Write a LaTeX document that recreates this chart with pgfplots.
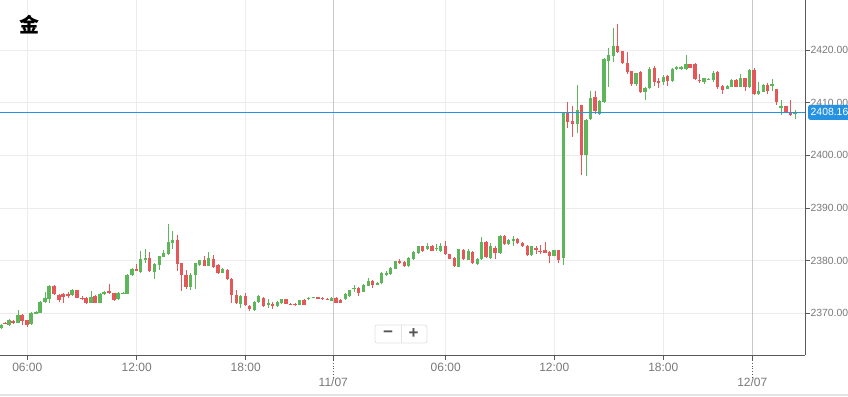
\documentclass[border=0pt]{standalone}
\usepackage{pgfplots}
\pgfplotsset{compat=1.18}
\usepackage{pgfplotstable}
\usepackage{fontspec}
\setmainfont{Liberation Sans}
\newfontfamily\cjk{Noto Sans CJK SC}
\definecolor{cup}{RGB}{94,182,90}
\definecolor{cdn}{RGB}{229,88,90}
\definecolor{gridc}{RGB}{236,236,236}
\definecolor{dayc}{RGB}{200,200,200}
\definecolor{axc}{RGB}{90,90,90}
\definecolor{labc}{RGB}{120,120,120}
\definecolor{pblue}{RGB}{38,146,226}
\definecolor{btnb}{RGB}{225,225,225}
\definecolor{btnt}{RGB}{85,85,85}

\pgfplotstableread{
x o h l c
1 2367.2 2368.0 2367.0 2367.8
5 2368.2 2368.3 2367.9 2368.0
9 2367.8 2368.9 2367.6 2368.7
13 2368.6 2368.7 2367.9 2368.1
18 2368.2 2370.6 2368.1 2369.7
22 2369.7 2369.8 2367.8 2368.6
27 2368.7 2368.8 2367.5 2367.8
31 2367.9 2370.3 2367.8 2370.1
36 2370.0 2370.5 2369.9 2370.3
40 2370.1 2372.3 2370.0 2372.2
45 2372.2 2374.1 2371.9 2372.9
49 2372.7 2375.3 2371.9 2375.2
54 2375.2 2375.3 2373.5 2373.6
59 2373.5 2373.6 2372.1 2372.5
63 2373.7 2373.8 2371.9 2373.2
68 2373.6 2374.1 2373.0 2373.4
72 2373.4 2374.6 2373.3 2374.4
77 2374.4 2374.5 2372.9 2373.0
82 2372.95 2373.2 2372.5 2372.85
86 2373.0 2373.1 2371.8 2371.9
91 2372.0 2374.3 2371.9 2373.2
95 2373.3 2373.4 2371.9 2372.0
100 2372.0 2373.8 2371.9 2373.7
104 2373.6 2374.2 2373.5 2374.1
109 2374.2 2375.5 2373.7 2373.8
114 2373.8 2373.9 2372.4 2372.5
118 2372.7 2374.0 2372.6 2373.9
123 2373.75 2374.0 2373.6 2373.85
127 2373.7 2377.4 2373.6 2377.3
132 2377.2 2378.6 2377.1 2378.5
136.7 2378.5 2379.3 2378.0 2378.1
140.7 2377.9 2381.8 2377.6 2380.3
145.3 2380.1 2382.3 2379.5 2380.6
149.3 2380.6 2381.6 2377.9 2377.95
154.3 2377.9 2379.6 2376.5 2379.4
159.3 2379.2 2380.9 2378.2 2380.9
163.3 2380.8 2382.0 2380.7 2381.4
168.3 2381.2 2387.0 2381.1 2383.6
172.7 2383.3 2385.7 2382.3 2383.9
177.3 2383.9 2384.9 2378.0 2379.3
181.3 2379.5 2379.5 2374.3 2377.3
186 2377.3 2378.2 2374.7 2375.1
190.3 2375.1 2377.6 2374.4 2377.3
195.3 2377.2 2379.5 2374.6 2379.5
199.3 2379.2 2380.2 2379.0 2380.1
204.3 2380.1 2380.8 2378.9 2379.0
208.3 2379.0 2381.6 2378.9 2380.6
213.3 2380.4 2381.1 2378.7 2378.9
218 2379.2 2379.3 2377.5 2377.7
222.3 2377.7 2378.7 2377.6 2378.4
227.3 2378.2 2378.4 2376.3 2376.5
231.7 2376.6 2376.7 2372.0 2373.5
236.3 2373.5 2374.4 2371.8 2371.9
240.7 2371.8 2373.5 2371.0 2373.3
245.3 2373.3 2373.8 2371.3 2371.6
249.3 2371.4 2371.6 2370.5 2370.9
254.3 2370.6 2372.4 2370.5 2372.2
258.3 2372.2 2373.4 2372.0 2373.3
263.3 2373.0 2373.1 2371.2 2371.3
268.3 2371.8 2372.8 2371.1 2371.9
272.3 2371.8 2372.1 2370.9 2371.4
277.3 2371.3 2372.3 2371.2 2372.2
281.7 2371.9 2372.8 2371.8 2372.7
286 2372.7 2372.8 2371.7 2371.8
290.3 2371.8 2371.9 2371.6 2371.7
295 2371.8 2372.0 2371.4 2371.6
299.3 2371.6 2372.6 2371.5 2372.5
304 2372.6 2372.7 2371.5 2371.6
308.7 2372.7 2373.1 2372.6 2373.0
313.3 2373.0 2373.1 2372.9 2373.05
318 2373.05 2373.1 2372.9 2372.95
322.7 2373.0 2373.1 2372.6 2372.7
327.3 2372.7 2373.0 2372.5 2372.6
331.7 2372.4 2373.1 2372.3 2373.0
336 2373.0 2373.1 2371.9 2372.0
340.7 2372.6 2372.8 2371.9 2371.95
345.3 2372.7 2373.8 2372.6 2373.7
349.3 2373.2 2374.5 2373.1 2374.4
354 2374.7 2375.4 2374.1 2374.8
358.3 2374.9 2375.0 2373.2 2373.9
363.3 2374.1 2375.6 2374.0 2375.4
368.3 2375.2 2376.8 2375.1 2376.2
372.7 2376.2 2376.3 2374.9 2375.4
377.7 2375.6 2375.9 2375.4 2375.7
381.7 2375.7 2377.8 2375.5 2377.6
386.7 2377.3 2378.0 2377.0 2377.7
390.7 2377.4 2378.8 2377.3 2378.7
395.3 2378.5 2380.0 2378.4 2379.9
399.7 2379.9 2380.4 2379.3 2379.8
404.3 2379.8 2379.9 2378.8 2378.9
408.7 2378.9 2380.7 2378.8 2380.6
413.3 2380.3 2381.8 2380.2 2381.7
418.3 2381.4 2382.8 2381.3 2382.7
422.7 2382.7 2382.8 2381.7 2381.8
427.3 2382.2 2383.3 2382.0 2382.7
432 2382.7 2383.0 2381.8 2381.9
436.7 2382.3 2383.1 2381.8 2382.4
440.7 2381.9 2383.3 2381.7 2382.8
445.7 2382.8 2383.7 2381.1 2381.2
449.3 2381.2 2381.3 2380.3 2380.4
454.3 2380.6 2380.7 2378.8 2378.9
458.3 2378.9 2382.3 2378.8 2382.2
463.3 2382.0 2382.2 2380.1 2380.3
468.3 2380.1 2382.2 2380.1 2381.8
472.3 2381.7 2381.8 2379.4 2379.5
477.3 2379.3 2380.5 2379.2 2380.4
481.7 2380.4 2384.4 2380.1 2383.6
486 2383.6 2383.8 2380.6 2380.8
490.7 2380.6 2383.3 2380.4 2382.8
495 2382.5 2382.7 2380.4 2381.5
500 2381.4 2384.8 2381.3 2384.7
504.3 2384.7 2384.8 2383.0 2383.2
508.3 2383.1 2384.1 2383.0 2384.0
513.3 2383.8 2384.6 2382.8 2384.2
517.7 2384.2 2384.3 2383.1 2383.3
522.3 2383.4 2383.5 2382.5 2382.7
527.3 2382.8 2382.9 2380.9 2381.0
531.7 2381.0 2382.8 2380.9 2382.7
536 2382.4 2382.7 2381.3 2382.0
540 2381.9 2383.0 2381.3 2381.8
545 2382.1 2383.6 2381.4 2381.5
549.3 2381.7 2381.8 2379.5 2380.9
554 2380.9 2382.1 2380.8 2382.0
558.3 2382.0 2382.1 2379.5 2380.2
563.3 2380.6 2408.1 2379.2 2408.0
567.3 2408.0 2410.2 2405.1 2406.4
572.3 2406.6 2409.4 2403.5 2405.9
577.3 2405.9 2413.4 2404.2 2408.7
581.7 2409.5 2409.6 2396.3 2400.1
586 2400.1 2406.9 2396.1 2406.8
590.3 2407.0 2412.2 2406.7 2410.8
595 2411.0 2412.2 2407.8 2408.5
599.3 2407.9 2410.5 2407.7 2410.3
604 2410.1 2418.4 2410.0 2418.3
608.3 2418.0 2420.3 2413.0 2419.0
613.3 2418.9 2424.1 2417.8 2420.8
617.3 2420.8 2424.9 2419.4 2419.7
622.3 2419.8 2419.9 2417.3 2417.5
627.3 2417.5 2419.6 2415.4 2415.9
631.3 2416.0 2416.1 2413.2 2413.5
636 2413.5 2415.7 2413.2 2415.6
640.7 2415.8 2416.0 2411.9 2412.0
645 2412.0 2412.9 2410.5 2412.7
649.3 2412.7 2416.8 2412.6 2416.4
654.3 2416.5 2417.0 2413.2 2414.0
658.3 2414.0 2414.6 2412.7 2413.9
663.3 2414.0 2415.3 2413.4 2414.9
667.3 2415.0 2415.3 2413.2 2414.1
672.3 2414.1 2416.5 2414.0 2416.4
676.7 2416.6 2416.9 2416.2 2416.7
681 2416.4 2416.9 2416.2 2416.8
686 2416.4 2419.0 2416.2 2417.3
690 2417.3 2417.4 2416.5 2416.6
695 2417.3 2417.6 2414.3 2414.4
699.3 2414.3 2415.4 2413.8 2414.2
704 2414.0 2414.6 2413.5 2414.6
708.3 2414.45 2414.7 2414.3 2414.55
713.3 2414.4 2416.1 2414.0 2415.7
717.7 2415.9 2416.0 2412.5 2413.0
722.3 2413.2 2413.3 2411.6 2412.5
727.3 2412.6 2413.3 2412.5 2413.2
731.7 2413.0 2414.4 2412.9 2414.3
736 2414.3 2414.4 2412.9 2413.0
740.7 2413.0 2415.4 2412.9 2414.6
745 2414.6 2414.7 2412.3 2412.9
749.3 2412.9 2416.3 2412.8 2416.2
754 2416.2 2416.5 2411.5 2411.6
758.3 2411.6 2414.0 2411.5 2412.3
763.3 2412.1 2413.5 2412.0 2413.4
767.3 2413.4 2413.7 2411.6 2412.2
772 2413.4 2414.4 2412.3 2413.5
776.7 2412.5 2412.6 2409.6 2410.2
781 2409.2 2410.5 2407.7 2409.3
786 2409.3 2409.4 2408.0 2408.3
790.7 2408.1 2410.5 2407.5 2407.7
795 2407.8 2408.7 2406.9 2408.16
}\candles

\begin{document}
\begin{tikzpicture}
\useasboundingbox (0,0) rectangle (848pt,-396pt);
\begin{axis}[
  at={(0,0)}, anchor=north west,
  scale only axis, width=805pt, height=355pt,
  xmin=0, xmax=805, ymin=2362.09, ymax=2429.49,
  axis x line=bottom, axis y line=right,
  axis line style={-, color=axc, line width=0.9pt},
  clip=false,
  xtick={27.3,136.7,245.7,445.7,554.3,663.3},
  xticklabels={06:00,12:00,18:00,06:00,12:00,18:00},
  extra x ticks={333.3,752.3},
  extra x tick labels={11/07,12/07},
  extra x tick style={grid=major, major grid style={color=dayc, line width=0.9pt}, xticklabel style={yshift=-15pt}},
  ytick={2370,2380,2390,2400,2410,2420},
  yticklabels={2370.00,2380.00,2390.00,2400.00,2410.00,2420.00},
  grid=major,
  major grid style={color=gridc, line width=0.8pt},
  tick align=outside,
  major tick length=4.5pt,
  tick style={color=axc, line width=0.8pt},
  xticklabel style={font=\fontsize{12}{14}\selectfont, text=labc},
  yticklabel style={font=\fontsize{10.4}{12}\selectfont, text=labc, anchor=west, xshift=-2.5pt},
]
% wicks
\addplot[forget plot, draw=none, mark=none,
  restrict expr to domain={\thisrow{c}-\thisrow{o}}{0:100},
  error bars/.cd, y dir=plus, y explicit, error mark=none,
  error bar style={draw=cup, line width=1pt}]
  table[x=x, y=l, y error plus expr={\thisrow{h}-\thisrow{l}}] {\candles};
\addplot[forget plot, draw=none, mark=none,
  restrict expr to domain={\thisrow{c}-\thisrow{o}}{-100:-0.001},
  error bars/.cd, y dir=plus, y explicit, error mark=none,
  error bar style={draw=cdn, line width=1pt}]
  table[x=x, y=l, y error plus expr={\thisrow{h}-\thisrow{l}}] {\candles};
% bodies
\addplot[forget plot, draw=none, mark=none,
  restrict expr to domain={\thisrow{c}-\thisrow{o}}{0:100},
  error bars/.cd, y dir=both, y explicit, error mark=none,
  error bar style={draw=cup, line width=3.4pt}]
  table[x=x, y expr={(\thisrow{o}+\thisrow{c})/2}, y error expr={max(abs(\thisrow{c}-\thisrow{o})/2,0.08)}] {\candles};
\addplot[forget plot, draw=none, mark=none,
  restrict expr to domain={\thisrow{c}-\thisrow{o}}{-100:-0.001},
  error bars/.cd, y dir=both, y explicit, error mark=none,
  error bar style={draw=cdn, line width=3.4pt}]
  table[x=x, y expr={(\thisrow{o}+\thisrow{c})/2}, y error expr={max(abs(\thisrow{c}-\thisrow{o})/2,0.08)}] {\candles};
% current price line
\addplot[forget plot, pblue, line width=0.8pt] coordinates {(0,2408.16) (805,2408.16)};
\node[fill=pblue, text=white, rounded corners=2pt, anchor=west, inner xsep=2.5pt, inner ysep=0pt,
  minimum height=15pt, font=\fontsize{10.4}{12}\selectfont] at (axis cs:808,2408.16) {2408.16};
% title
\node[anchor=base west, inner sep=0pt, xshift=19pt, yshift=-32pt,
  font=\cjk\bfseries\fontsize{20}{22}\selectfont] at (rel axis cs:0,1) {金};
% zoom buttons
\draw[fill=white, draw=btnb, line width=0.8pt, rounded corners=2pt]
  (axis cs:375,2364.37) rectangle (axis cs:427,2367.79);
\draw[draw=btnb, line width=0.8pt] (axis cs:401,2364.37) -- (axis cs:401,2367.79);
\node[text=btnt, font=\bfseries\fontsize{17}{17}\selectfont, inner sep=0pt] at (axis cs:388,2366.08) {−};
\node[text=btnt, font=\bfseries\fontsize{17}{17}\selectfont, inner sep=0pt] at (axis cs:413.5,2366.08) {+};
\end{axis}
% dotted date ticks
\draw[dotted, color=axc, line width=0.8pt] (333.3pt,-360pt) -- (333.3pt,-377pt);
\draw[dotted, color=axc, line width=0.8pt] (752.3pt,-360pt) -- (752.3pt,-377pt);
\draw[color=gray!22, line width=1.5pt] (0,-395pt) -- (848pt,-395pt);
\end{tikzpicture}
\end{document}
